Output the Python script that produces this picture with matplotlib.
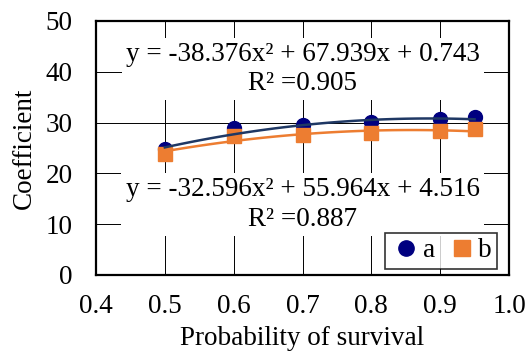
import numpy as np
import matplotlib
matplotlib.use("Agg")
import matplotlib.pyplot as plt

plt.rcParams['font.family'] = ['Liberation Serif', 'DejaVu Serif']

x = [0.5, 0.6, 0.7, 0.8, 0.9, 0.95]
a_vals = [24.9, 29.0, 29.5, 30.2, 30.7, 31.2]
b_vals = [23.8, 27.4, 27.6, 27.9, 28.3, 28.7]
a_coef = [-38.376, 67.939, 0.743]
b_coef = [-32.596, 55.964, 4.516]
a_r2 = 0.905
b_r2 = 0.887

FS = 19.5
fig = plt.figure(figsize=(5.29, 3.51), dpi=100)
ax = fig.add_axes([96/529, 1-275/351, (509-96)/529, (275-21)/351])

navy = '#000080'
navy_line = '#1F3864'
orange = '#ED7D31'

ax.plot(x, a_vals, 'o', color=navy, ms=10, zorder=3, label='a', linestyle='none')
ax.plot(x, b_vals, 's', color=orange, ms=10, zorder=4, label='b', linestyle='none')
xs = np.linspace(min(x), max(x), 100)
ax.plot(xs, np.polyval(b_coef, xs), color=orange, lw=1.8, zorder=5)
ax.plot(xs, np.polyval(a_coef, xs), color=navy_line, lw=1.8, zorder=6)

ax.set_xlim(0.4, 1.0)
ax.set_ylim(0, 50)
ax.set_xticks(np.arange(0.4, 1.01, 0.1))
ax.set_xticklabels([f'{v:.1f}' for v in np.arange(0.4, 1.01, 0.1)])
ax.set_yticks(range(0, 51, 10))
ax.tick_params(length=0, labelsize=FS)
ax.tick_params(axis='y', pad=17)
ax.tick_params(axis='x', pad=14)
ax.grid(True, color='black', lw=0.7, zorder=0)
ax.set_axisbelow(True)
for s in ax.spines.values():
    s.set_linewidth(1.6)
    s.set_color('black')

ax.set_xlabel('Probability of survival', fontsize=FS, labelpad=5)
ax.set_ylabel('Coefficient', fontsize=FS, labelpad=6)

def eq(c):
    return f'y = {c[0]:.3f}x² + {c[1]:.3f}x + {c[2]:.3f}'

bbox = dict(facecolor='white', edgecolor='none', pad=3)
ax.text(0.7, 40.6, eq(a_coef) + f'\nR² ={a_r2:.3f}', ha='center', va='center',
        fontsize=FS, linespacing=1.2, bbox=bbox, zorder=7)
ax.text(0.7, 13.9, eq(b_coef) + f'\nR² ={b_r2:.3f}', ha='center', va='center',
        fontsize=FS, linespacing=1.25, bbox=bbox, zorder=7)

leg = ax.legend(loc='lower right', bbox_to_anchor=(0.971, 0.024), ncol=2, frameon=True,
                fontsize=FS, handletextpad=0.0, columnspacing=0.4, borderpad=0.2,
                handlelength=1.2, fancybox=False, markerscale=1.1,
                borderaxespad=0.0)
leg.get_frame().set_edgecolor('black')
leg.get_frame().set_linewidth(1.2)
leg.set_zorder(8)

fig.savefig('out.png', dpi=100)
